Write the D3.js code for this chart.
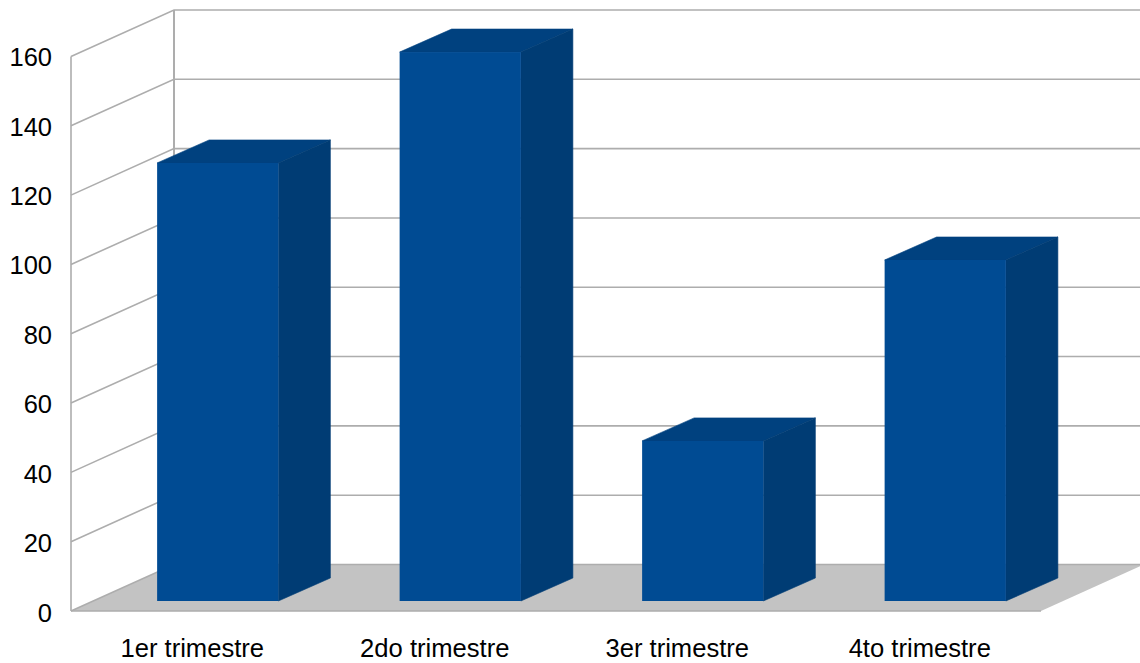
<!DOCTYPE html>
<html>
<head>
<meta charset="utf-8">
<script src="https://cdn.jsdelivr.net/npm/d3@7"></script>
<style>
	html, body { margin: 0; padding: 0; background: #fff; overflow: hidden; }
	text { font-family: "Liberation Sans", Arial, sans-serif; fill: #000; }
</style>
</head>
<body>
<div id="chart"></div>
<script>
const categories = ['1er trimestre', '2do trimestre', '3er trimestre', '4to trimestre'];
const values = [126.4, 158.4, 46.2, 98.4];
const yTicks = [0, 20, 40, 60, 80, 100, 120, 140, 160];

const width = 1140,
	height = 663;

// front plane of the 3d box
const left = 71,
	right = 1041,
	top3d = 56.5,
	bottom = 611;

// how far the back wall sits from the front plane, and the bars from each
const wall = {dx: 103, dy: -46.5},
	inset = {dx: 25.5, dy: -10},
	depth = {dx: 52, dy: -23};

const colors = {
	grid: '#adadad',
	floor: '#c3c3c3',
	front: '#004b93',
	top: '#00417f',
	side: '#003c74'
};

const svg = d3.select('#chart')
	.append('svg')
	.attr('width', width)
	.attr('height', height)
	.style('display', 'block');

const xScale = d3.scaleBand()
	.domain(categories)
	.range([left, right])
	.padding(0);

const yScale = d3.scaleLinear()
	.domain([0, 160])
	.range([bottom, top3d]);

// labels run a touch wider than the gridlines in the original
const yLabelScale = yScale.copy().range([bottom + 2, top3d + 1]);

const barWidth = xScale.bandwidth() / 2;

const poly = pts => pts.map(p => p.join(',')).join(' ');

// ----------------------------------
// FLOOR AND WALLS
// ----------------------------------

svg.append('polygon')
	.attr('points', poly([
		[left, bottom],
		[right, bottom],
		[right + wall.dx, bottom + wall.dy],
		[left + wall.dx, bottom + wall.dy]
	]))
	.attr('fill', colors.floor);

const grid = svg.append('g')
	.attr('class', 'grid')
	.attr('fill', 'none')
	.attr('stroke', colors.grid)
	.attr('stroke-width', 1.6);

grid.selectAll('path')
	.data(yTicks)
	.join('path')
	.attr('d', d => {
		const y = yScale(d);
		return `M${left},${y}L${left + wall.dx},${y + wall.dy}L${width},${y + wall.dy}`;
	});

grid.append('line')
	.attr('x1', left)
	.attr('x2', left)
	.attr('y1', yScale(160))
	.attr('y2', yScale(0));

grid.append('line')
	.attr('x1', left + wall.dx)
	.attr('x2', left + wall.dx)
	.attr('y1', yScale(160) + wall.dy)
	.attr('y2', yScale(0) + wall.dy)
	.attr('stroke-width', 2);

grid.append('line')
	.attr('x1', left)
	.attr('x2', right)
	.attr('y1', yScale(0))
	.attr('y2', yScale(0));

// ----------------------------------
// BARS
// ----------------------------------

const bars = svg.append('g')
	.attr('class', 'bars')
	.selectAll('g')
	.data(categories.map((c, i) => ({category: c, value: values[i]})))
	.join('g')
	.attr('transform', d => `translate(${xScale(d.category) + barWidth / 2 + inset.dx}, ${inset.dy})`);

// top
bars.append('polygon')
	.attr('fill', colors.top)
	.attr('stroke', colors.top)
	.attr('stroke-width', 0.6)
	.attr('points', d => {
		const y = yScale(d.value);
		return poly([
			[0, y],
			[barWidth, y],
			[barWidth + depth.dx, y + depth.dy],
			[depth.dx, y + depth.dy]
		]);
	});

// side
bars.append('polygon')
	.attr('fill', colors.side)
	.attr('stroke', colors.side)
	.attr('stroke-width', 0.6)
	.attr('points', d => {
		const y = yScale(d.value);
		return poly([
			[barWidth, y],
			[barWidth + depth.dx, y + depth.dy],
			[barWidth + depth.dx, yScale(0) + depth.dy],
			[barWidth, yScale(0)]
		]);
	});

// front
bars.append('rect')
	.attr('fill', colors.front)
	.attr('x', 0)
	.attr('y', d => yScale(d.value))
	.attr('width', barWidth)
	.attr('height', d => yScale(0) - yScale(d.value));

// ----------------------------------
// AXES
// ----------------------------------

const yAxis = svg.append('g')
	.attr('class', 'y axis')
	.attr('transform', `translate(${left}, 0)`)
	.call(d3.axisLeft(yLabelScale).tickValues(yTicks).tickSize(0).tickPadding(19));

yAxis.select('.domain').remove();
yAxis.selectAll('text').style('font-size', '25.5px');

const xAxis = svg.append('g')
	.attr('class', 'x axis')
	.attr('transform', `translate(0, ${bottom})`)
	.call(d3.axisBottom(xScale).tickSize(0).tickPadding(27.5));

xAxis.select('.domain').remove();
xAxis.selectAll('text').style('font-size', '25.6px');
</script>
</body>
</html>
